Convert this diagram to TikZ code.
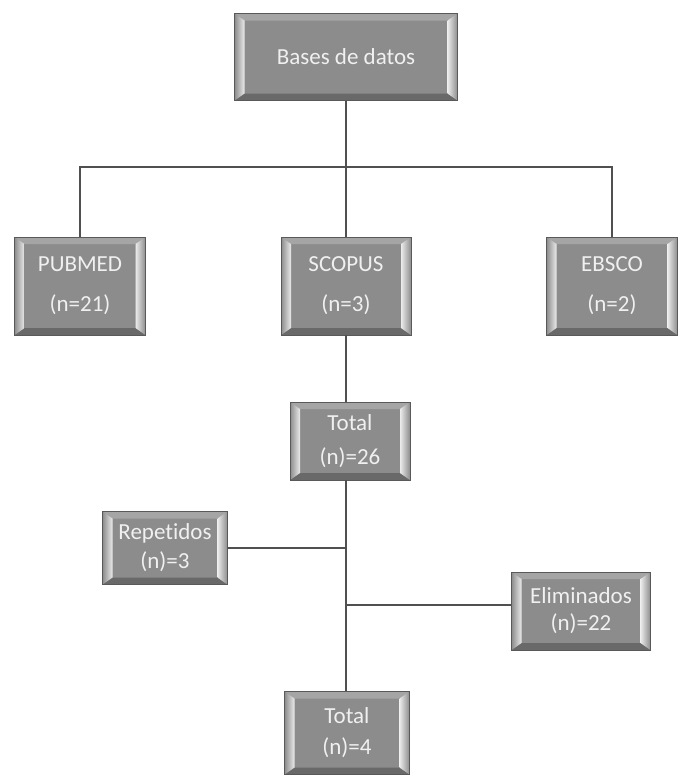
\documentclass[tikz,border=0pt]{standalone}
\usepackage{fontspec}
\setmainfont{Carlito}[Ligatures=NoCommon]
\definecolor{boxgray}{RGB}{140,140,140}
\definecolor{bevtopc}{RGB}{165,165,165}
\definecolor{bevbotc}{RGB}{105,105,105}
\definecolor{bevside}{RGB}{235,235,235}
\definecolor{txtc}{RGB}{240,240,240}
\definecolor{linec}{RGB}{80,80,80}
\newcommand{\bevfont}{\fontsize{23}{27}\selectfont}
\tikzset{
  bev/.style={rectangle, draw=black!65, line width=0.8pt, fill=boxgray,
    text=txtc, font=\bevfont, align=center, inner sep=0pt,
    path picture={
      \fill[bevtopc] (path picture bounding box.north west) -- (path picture bounding box.north east)
        -- ([shift={(-10pt,-7pt)}]path picture bounding box.north east)
        -- ([shift={(10pt,-7pt)}]path picture bounding box.north west) -- cycle;
      \fill[bevbotc] (path picture bounding box.south west) -- (path picture bounding box.south east)
        -- ([shift={(-10pt,7pt)}]path picture bounding box.south east)
        -- ([shift={(10pt,7pt)}]path picture bounding box.south west) -- cycle;
      \shade[left color=boxgray, right color=bevside] (path picture bounding box.north west)
        -- ([shift={(10pt,-7pt)}]path picture bounding box.north west)
        -- ([shift={(10pt,7pt)}]path picture bounding box.south west)
        -- (path picture bounding box.south west) -- cycle;
      \shade[left color=bevside, right color=boxgray] (path picture bounding box.north east)
        -- ([shift={(-10pt,-7pt)}]path picture bounding box.north east)
        -- ([shift={(-10pt,7pt)}]path picture bounding box.south east)
        -- (path picture bounding box.south east) -- cycle;
    }},
  conn/.style={draw=linec, line width=1.3pt}
}
\begin{document}
\begin{tikzpicture}[x=1pt,y=1pt]
\useasboundingbox (0,0) rectangle (683,-779);
\node[bev, minimum width=223pt, minimum height=87pt] (bases) at (346,-57) {Bases de datos};
\node[bev, minimum width=131pt, minimum height=98pt] (pub) at (80,-286) {PUBMED\\[13pt](n=21)};
\node[bev, minimum width=130pt, minimum height=98pt] (sco) at (346,-286) {SCOPUS\\[13pt](n=3)};
\node[bev, minimum width=131pt, minimum height=98pt] (ebs) at (612,-286) {EBSCO\\[13pt](n=2)};
\node[bev, minimum width=120pt, minimum height=78pt] (tot1) at (350,-441) {Total\\[7pt](n)=26};
\node[bev, minimum width=125pt, minimum height=73pt] (rep) at (165,-548) {Repetidos\\[2pt](n)=3};
\node[bev, minimum width=139pt, minimum height=78pt] (elim) at (581,-611) {Eliminados\\[0pt](n)=22};
\node[bev, minimum width=125pt, minimum height=83pt] (tot2) at (347,-733) {Total\\[4pt](n)=4};
\coordinate (hub) at (346,-167);
\coordinate (trunk) at (346,-500);
\path[conn] (bases.south) -- (sco.north);
\path[conn] (pub.north) |- (hub) -| (ebs.north);
\path[conn] (sco.south) -- (sco.south |- tot1.north);
\path[conn] (trunk |- tot1.south) -- (trunk |- tot2.north);
\path[conn] (rep.east) -- (rep.east -| trunk);
\path[conn] ([yshift=6pt]elim.west) -- ([yshift=6pt]elim.west -| trunk);
\end{tikzpicture}
\end{document}
